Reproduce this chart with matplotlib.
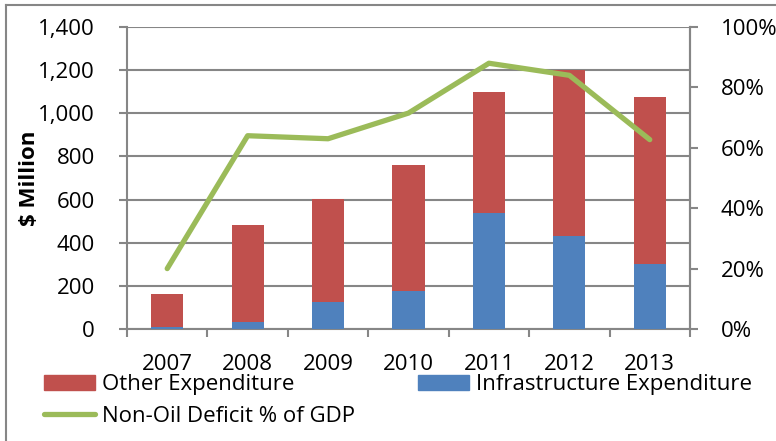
import matplotlib
matplotlib.use("Agg")
import matplotlib.pyplot as plt
from matplotlib.lines import Line2D
from matplotlib.patches import Patch
import numpy as np

plt.rcParams['font.family'] = ['Open Sans', 'DejaVu Sans']

years = ["2007", "2008", "2009", "2010", "2011", "2012", "2013"]
infrastructure = [8, 34, 124, 176, 537, 429, 300]
other_total = [161, 483, 603, 761, 1097, 1199, 1075]
other = [t - i for t, i in zip(other_total, infrastructure)]
deficit_pct = [20, 64, 63, 71.5, 88, 84, 62.7]

RED = "#C0504D"
BLUE = "#4F81BD"
GREEN = "#9BBB59"
GRID = "#868686"
FS = 16

W, H = 776, 441
fig = plt.figure(figsize=(W / 100, H / 100), dpi=100)
ax = fig.add_axes([127 / W, (H - 329) / H, (690 - 127) / W, (329 - 27) / H])

x = np.arange(len(years))
ax.bar(x, infrastructure, width=0.4, color=BLUE, zorder=3)
ax.bar(x, other, width=0.4, bottom=infrastructure, color=RED, zorder=3)

ax.set_xlim(-0.5, len(years) - 0.5)
ax.set_ylim(0, 1400)
ax.set_yticks(np.arange(0, 1401, 200))
ax.set_yticklabels([f"{v:,}" for v in range(0, 1401, 200)])
ax.yaxis.grid(True, color=GRID, linewidth=1.5, zorder=0)
ax.set_axisbelow(True)
ax.set_xticks(x)
ax.set_xticklabels(years)
ax.set_xticks(np.arange(-0.5, len(years), 1), minor=True)
ax.tick_params(axis='x', which='major', length=0, labelsize=FS, pad=18)
ax.tick_params(axis='x', which='minor', length=6, width=1.5, color=GRID)
ax.tick_params(axis='y', length=6, width=1.5, color=GRID, labelsize=FS, pad=17)
ax.spines["top"].set_visible(False)
for s in ["left", "bottom", "right"]:
    ax.spines[s].set_color(GRID)
    ax.spines[s].set_linewidth(1.5)
ax.set_ylabel("$ Million", fontsize=FS, fontweight="bold")
ax.yaxis.set_label_coords((40 - 127) / (690 - 127), 0.5)

ax2 = ax.twinx()
ax2.plot(x, deficit_pct, color=GREEN, linewidth=3.8, solid_capstyle="round", zorder=4)
ax2.set_ylim(0, 100)
ax2.set_yticks(np.arange(0, 101, 20))
ax2.set_yticklabels([f"{v}%" for v in range(0, 101, 20)])
ax2.tick_params(axis='y', length=6, width=1.5, color=GRID, labelsize=FS, pad=16)
for s in ["top", "left", "bottom"]:
    ax2.spines[s].set_visible(False)
ax2.spines["right"].set_color(GRID)
ax2.spines["right"].set_linewidth(1.5)

handles = [Patch(color=RED),
           Line2D([0], [0], color=GREEN, linewidth=3.8, solid_capstyle="round"),
           Patch(color=BLUE)]
labels = ["Other Expenditure", "Non-Oil Deficit % of GDP", "Infrastructure Expenditure"]
fig.legend(handles, labels, loc="upper left", bbox_to_anchor=(44 / W, 1 - 374 / H),
           ncol=2, frameon=False, fontsize=FS, handlelength=2.3, handleheight=0.68,
           columnspacing=2.85, handletextpad=0.3, labelspacing=0.5,
           borderaxespad=0, borderpad=0)

fig.add_artist(Line2D([6 / W, 1], [1 - 5 / H, 1 - 5 / H], color=GRID, linewidth=1.5))
fig.add_artist(Line2D([6 / W, 6 / W], [0, 1 - 5 / H], color=GRID, linewidth=1.5))

fig.savefig("out.png", dpi=100)
